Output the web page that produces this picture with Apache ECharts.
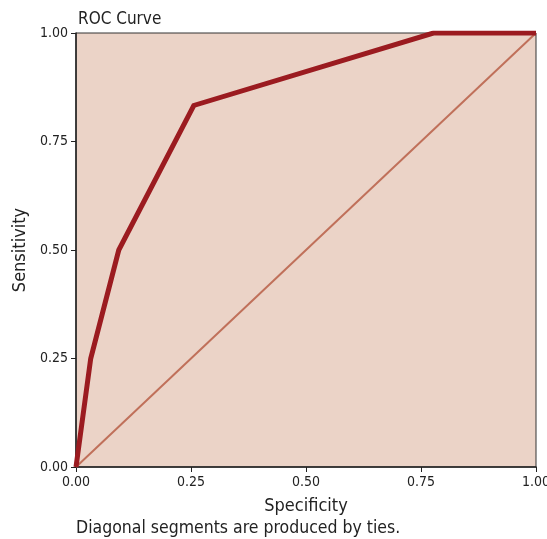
<!DOCTYPE html>
<html>
<head>
<meta charset="utf-8">
<script src="https://cdn.jsdelivr.net/npm/echarts@6/dist/echarts.min.js"></script>
<style>
html, body { margin: 0; padding: 0; background: #fff; }
#main { width: 547px; height: 539px; }
</style>
</head>
<body>
<div id="main"></div>
<script>
// ROC curve data
var fpr = [0, 0.032, 0.093, 0.256, 0.777, 1];
var tpr = [0, 0.25, 0.5, 0.833, 1, 1];
var refX = [0, 1];
var refY = [0, 1];

var font = '"Liberation Sans Narrow", "DejaVu Sans Condensed", "Roboto", sans-serif';

function pairs(xs, ys) {
    var out = [];
    for (var i = 0; i < xs.length; i++) out.push([xs[i], ys[i]]);
    return out;
}

var myChart = echarts.init(document.getElementById('main'));
var option = {
    animation: false,
    title: {
        text: 'ROC Curve',
        left: 73, top: 6,
        textStyle: { fontFamily: font, fontSize: 17, fontWeight: 'normal', color: '#222' }
    },
    graphic: [{
        type: 'text',
        left: 76, top: 519,
        style: { text: 'Diagonal segments are produced by ties.', font: '17.5px ' + font, fill: '#222' }
    }],
    grid: {
        left: 76, right: 11, top: 33, bottom: 72,
        outerBoundsMode: 'none',
        containLabel: false,
        show: true,
        backgroundColor: '#ebd3c7',
        borderColor: '#333',
        borderWidth: 1
    },
    xAxis: {
        type: 'value', min: 0, max: 1, interval: 0.25,
        name: 'Specificity', nameLocation: 'middle', nameGap: 30,
        nameTextStyle: { fontFamily: font, fontSize: 18, color: '#222' },
        axisLine: { lineStyle: { color: '#222', width: 1.5 } },
        axisTick: { show: true, length: 5, lineStyle: { color: '#222' } },
        axisLabel: { fontFamily: font, fontSize: 14, color: '#222', margin: 8,
            formatter: function (v) { return v.toFixed(2); } },
        splitLine: { show: false }
    },
    yAxis: {
        type: 'value', min: 0, max: 1, interval: 0.25,
        name: 'Sensitivity', nameLocation: 'middle', nameGap: 46,
        nameTextStyle: { fontFamily: font, fontSize: 18, color: '#222' },
        axisLine: { lineStyle: { color: '#222', width: 1.5 } },
        axisTick: { show: true, length: 5, lineStyle: { color: '#222' } },
        axisLabel: { fontFamily: font, fontSize: 14, color: '#222', margin: 8,
            formatter: function (v) { return v.toFixed(2); } },
        splitLine: { show: false }
    },
    series: [{
        type: 'line',
        data: pairs(refX, refY),
        symbol: 'none',
        lineStyle: { color: '#c0705a', width: 2 },
        z: 2
    }, {
        type: 'line',
        data: pairs(fpr, tpr),
        symbol: 'none',
        lineStyle: { color: '#9b1b20', width: 5, join: 'miter' },
        z: 3
    }]
};
myChart.setOption(option);
</script>
</body>
</html>
